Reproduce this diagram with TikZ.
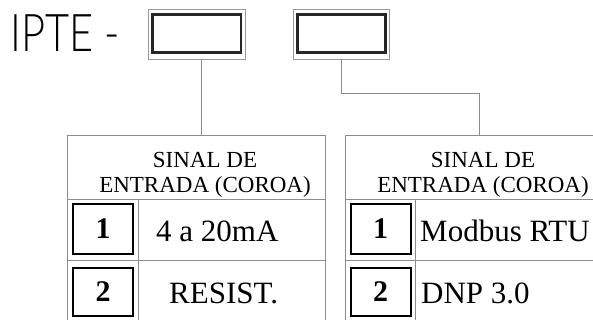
\documentclass[tikz,border=0pt]{standalone}
\usepackage{fontspec}
\setmainfont{Liberation Serif}
\newfontfamily\iptefont{Lato Light}
\begin{document}
\begin{tikzpicture}[x=1pt,y=-1pt,
  grayframe/.style={draw=black!40, line width=0.8pt, inner sep=0pt, minimum width=#1},
  thickbox/.style={draw=black!85, line width=2.6pt, inner sep=0pt},
  cell/.style={draw=black!45, line width=0.8pt, inner sep=0pt},
  numbox/.style={draw=black, line width=2pt, inner sep=0pt, minimum width=60pt,
     font=\bfseries\fontsize{30}{30}\selectfont},
  conn/.style={draw=black!45, line width=0.8pt},
  hdr/.style={inner sep=0pt, anchor=base, font=\fontsize{23}{23}\selectfont},
  rowtxt/.style={inner sep=0pt, anchor=base west, font=\fontsize{31}{31}\selectfont}]
\useasboundingbox (0,0) rectangle (593,320);
% title
\node[inner sep=0pt, anchor=base west, xscale=0.8, font=\iptefont\fontsize{52}{52}\selectfont] (title) at (10,52) {IPTE -};
% top boxes
\node[grayframe=97pt, minimum height=50pt] (b1) at (196.5,34) {};
\node[thickbox, minimum width=88.7pt, minimum height=38pt] (b1i) at (196.7,33.7) {};
\node[grayframe=96pt, minimum height=50pt] (b2) at (341,34) {};
\node[thickbox, minimum width=88.4pt, minimum height=38pt] (b2i) at (341.5,33.7) {};
% table 1
\node[cell, minimum width=257.3pt, minimum height=64pt] (h1) at (196.35,167) {};
\node[cell, minimum width=70.3pt, minimum height=61pt] (c11) at (102.85,229.5) {};
\node[cell, minimum width=187pt, minimum height=61pt] (c12) at (231.5,229.5) {};
\node[cell, minimum width=70.3pt, minimum height=70pt] (c21) at (102.85,295) {};
\node[cell, minimum width=187pt, minimum height=70pt] (c22) at (231.5,295) {};
% table 2
\node[cell, minimum width=276pt, minimum height=64pt] (h2) at (483,167) {};
\node[cell, minimum width=70pt, minimum height=61pt] (d11) at (380,229.5) {};
\node[cell, minimum width=206pt, minimum height=61pt] (d12) at (518,229.5) {};
\node[cell, minimum width=70pt, minimum height=70pt] (d21) at (380,295) {};
\node[cell, minimum width=206pt, minimum height=70pt] (d22) at (518,295) {};
% headers
\node[hdr] (h1a) at (205,168) {SINAL DE};
\node[hdr] (h1b) at (205,193) {ENTRADA (COROA)};
\node[hdr] (h2a) at (483,168) {SINAL DE};
\node[hdr] (h2b) at (483,193) {ENTRADA (COROA)};
% number boxes
\node[numbox, minimum height=50pt] (n11) at (103,229) {1};
\node[numbox, minimum height=48pt] (n12) at (103,292) {2};
\node[numbox, minimum height=50pt] (n21) at (380.5,229) {1};
\node[numbox, minimum height=48pt] (n22) at (380.5,292) {2};
% row texts
\node[rowtxt] (t11) at (156,241) {4 a 20mA};
\node[rowtxt] (t12) at (169,303) {RESIST.};
\node[rowtxt] (t21) at (420,241) {Modbus RTU};
\node[rowtxt] (t22) at (421,303) {DNP 3.0};
% connectors
\coordinate (k1) at (201,135);
\coordinate (k2) at (479,135);
\draw[conn] (k1 |- b1.south) -- (k1);
\draw[conn] (b2.south) -- ++(0,34) -| (k2);
\end{tikzpicture}
\end{document}
